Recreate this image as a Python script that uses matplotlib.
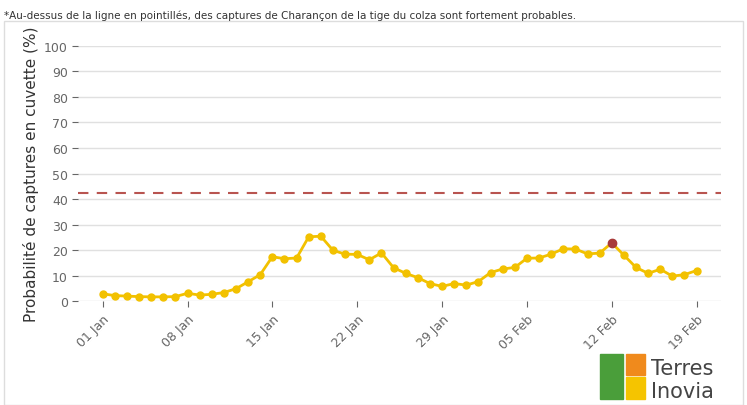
import matplotlib
matplotlib.use("Agg")
import matplotlib.pyplot as plt
import matplotlib.dates as mdates
import numpy as np
from matplotlib.patches import Rectangle

dates = np.arange(np.datetime64("2024-01-01"), np.datetime64("2024-02-20"))
values = [3, 2.3, 2.1, 1.9, 1.8, 1.8, 1.9,
          3.2, 2.5, 2.8, 3.5, 5, 7.7, 10.5,
          17.5, 16.7, 17, 25.3, 25.5, 20, 18.5,
          18.4, 16.3, 19, 13.2, 11, 9.3, 7,
          5.9, 7, 6.4, 7.8, 11.3, 12.7, 13.3,
          16.9, 17, 18.5, 20.6, 20.5, 18.6, 18.9,
          22.9, 18.1, 13.3, 11, 12.6, 9.9, 10.5,
          12.1]
threshold = 42.5
highlight = 42  # index of 12 Feb

fig = plt.figure(figsize=(7.47, 4.06), dpi=100)
ax = fig.add_axes([0.105, 0.255, 0.86, 0.63])
ax.plot(dates, values, color="#f2c100", lw=2, marker="o", ms=5, zorder=3)
ax.plot(dates[highlight], values[highlight], "o", color="#a83a3a", ms=6, zorder=4)
ax.axhline(threshold, color="#b85450", ls=(0, (5, 4)), lw=1.5)

ax.set_ylim(0, 100)
ax.set_yticks(range(0, 101, 10))
ax.set_xlim(dates[0] - np.timedelta64(2, "D"), dates[-1] + np.timedelta64(2, "D"))
ax.set_xticks(dates[::7])
ax.xaxis.set_major_formatter(mdates.DateFormatter("%d %b"))
plt.setp(ax.get_xticklabels(), rotation=45, ha="right", rotation_mode="anchor")
ax.tick_params(colors="#666666", labelsize=9, length=4)
ax.grid(axis="y", color="#e0e0e0", lw=1)
for s in ax.spines.values():
    s.set_visible(False)
ax.set_ylabel("Probabilité de captures en cuvette (%)", fontsize=11, color="#333333")

fig.text(0.005, 0.975, "*Au-dessus de la ligne en pointillés, des captures de Charançon de la tige du colza sont fortement probables.",
         fontsize=7.5, color="#333333", va="top")
fig.patches.append(Rectangle((0.005, 0.0), 0.99, 0.945, transform=fig.transFigure,
                             fill=False, ec="#dddddd", lw=1))

# logo
fig.patches.append(Rectangle((0.803, 0.015), 0.031, 0.11, transform=fig.transFigure, color="#4a9e3a"))
fig.patches.append(Rectangle((0.838, 0.075), 0.025, 0.05, transform=fig.transFigure, color="#f08a1c"))
fig.patches.append(Rectangle((0.838, 0.015), 0.025, 0.055, transform=fig.transFigure, color="#f5c400"))
fig.text(0.872, 0.09, "Terres", fontsize=15, color="#444444", va="center")
fig.text(0.872, 0.035, "Inovia", fontsize=15, color="#444444", va="center")

fig.savefig("out.png", dpi=100)
